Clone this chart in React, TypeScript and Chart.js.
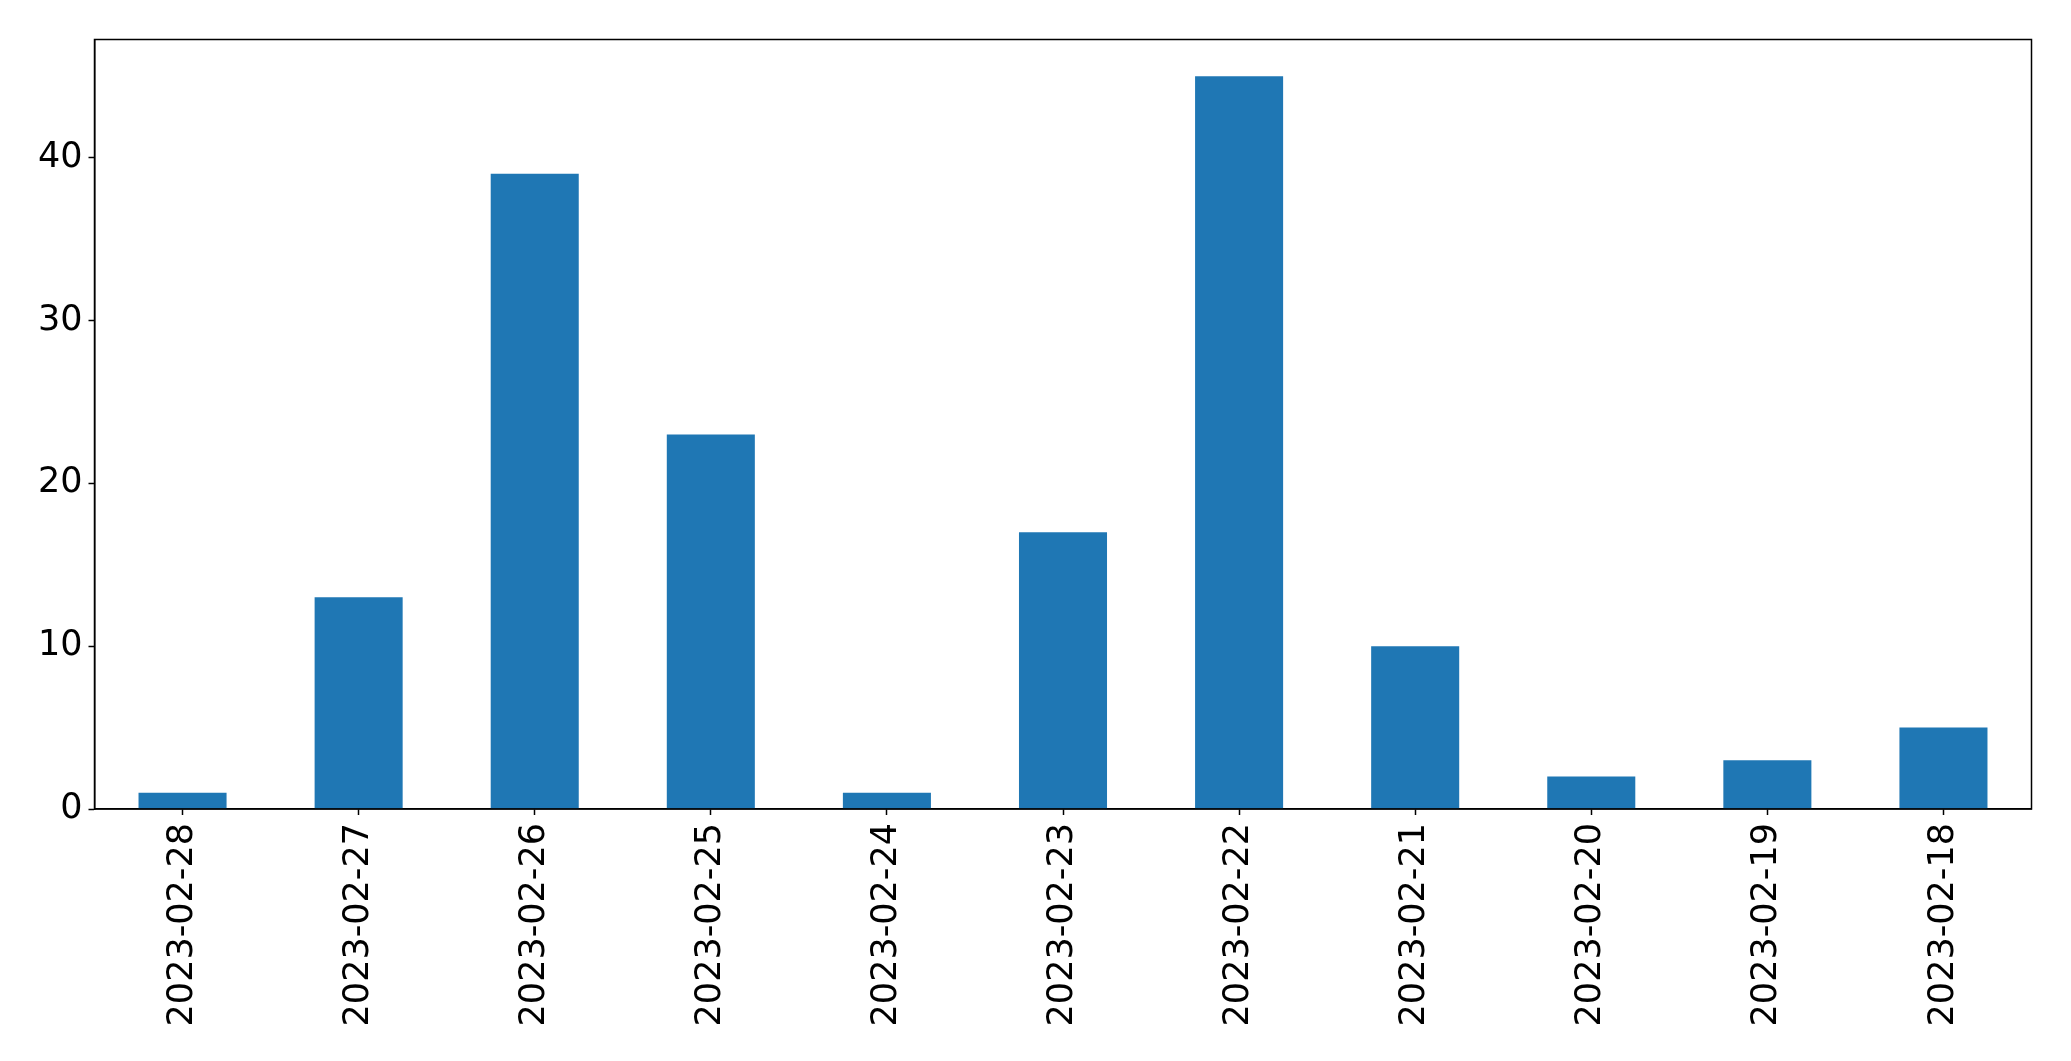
import React, { useEffect, useRef } from "react";
import { Chart, registerables } from "chart.js";

Chart.register(...registerables);

const categories = [
  "2023-02-28", "2023-02-27", "2023-02-26", "2023-02-25", "2023-02-24", "2023-02-23",
  "2023-02-22", "2023-02-21", "2023-02-20", "2023-02-19", "2023-02-18",
];
const counts = [1, 13, 39, 23, 1, 17, 45, 10, 2, 3, 5];
const yMax = 47.25;
const yStep = 10;

const framePlugin = {
  id: "frame",
  afterDraw(chart: any) {
    const { ctx, chartArea } = chart;
    ctx.save();
    ctx.strokeStyle = "#000";
    ctx.lineWidth = 1.5;
    ctx.strokeRect(chartArea.left, chartArea.top, chartArea.right - chartArea.left, chartArea.bottom - chartArea.top);
    ctx.restore();
  },
};

export default function App() {
  const ref = useRef<HTMLCanvasElement>(null);
  useEffect(() => {
    const font = { family: "'DejaVu Sans', sans-serif", size: 35 };
    const chart = new Chart(ref.current!, {
      type: "bar",
      data: {
        labels: categories,
        datasets: [
          {
            data: counts,
            backgroundColor: "#1f77b4",
            categoryPercentage: 1,
            barPercentage: 0.5,
          },
        ],
      },
      options: {
        animation: false,
        responsive: false,
        maintainAspectRatio: false,
        layout: { padding: { left: 0, top: 39.5, right: 39.5, bottom: 0 } },
        plugins: { legend: { display: false }, tooltip: { enabled: false } },
        scales: {
          x: {
            offset: true,
            grid: { display: true, offset: false, drawOnChartArea: false, drawTicks: true, tickLength: 6, tickColor: "#000", tickWidth: 1.5 },
            border: { display: true, color: "#000", width: 1.5 },
            ticks: { color: "#000", font, maxRotation: 90, minRotation: 90, padding: 8, autoSkip: false },
            afterFit: (s: any) => { s.height = 1061 - 809 - 0; },
          },
          y: {
            min: 0,
            max: yMax,
            grid: { display: true, drawOnChartArea: false, drawTicks: true, tickLength: 6, tickColor: "#000", tickWidth: 1.5 },
            border: { display: true, color: "#000", width: 1.5 },
            ticks: { color: "#000", font, stepSize: yStep, includeBounds: false, padding: 6 },
            afterFit: (s: any) => { s.width = 94.5; },
          },
        },
      },
      plugins: [framePlugin],
    });
    return () => chart.destroy();
  }, []);
  return (
    <div style={{ position: "fixed", left: 0, top: 0, width: 2071, height: 1061, background: "#fff" }}>
      <canvas ref={ref} width={2071} height={1061} style={{ width: 2071, height: 1061 }} />
    </div>
  );
}
